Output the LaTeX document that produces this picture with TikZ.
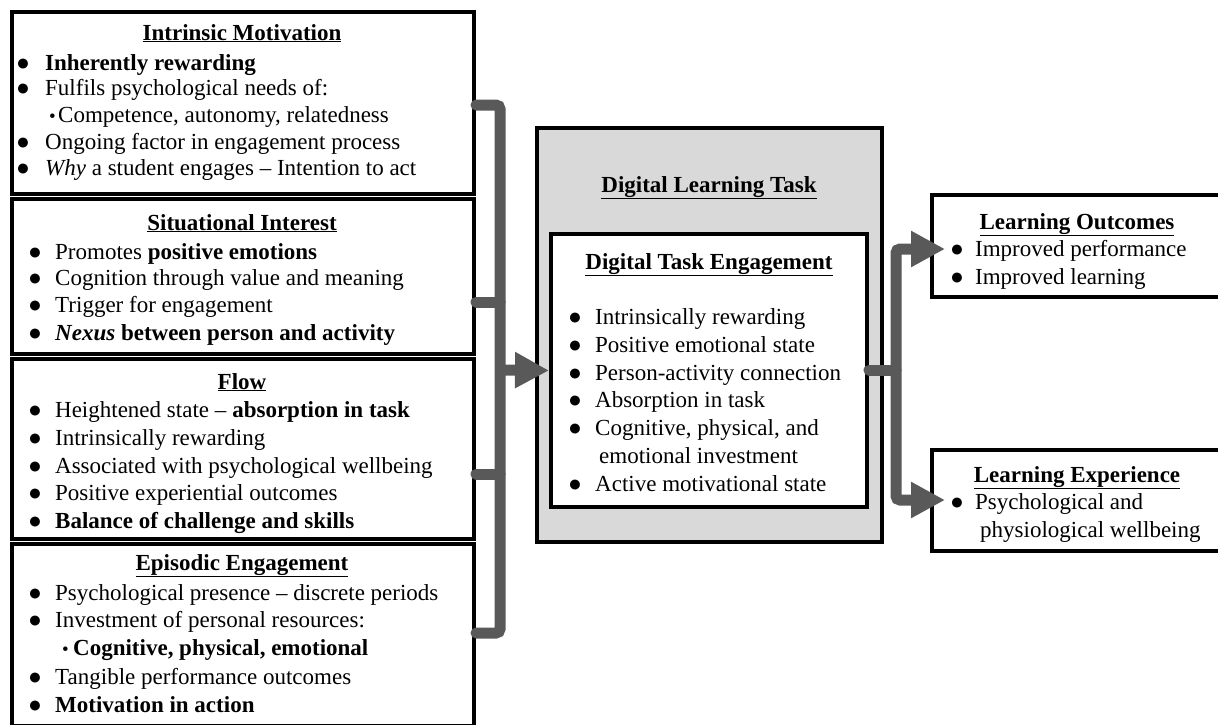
\documentclass[tikz,border=0pt]{standalone}
\usepackage{fontspec}
\setmainfont{Liberation Serif}
\usetikzlibrary{arrows.meta}
\definecolor{gl}{RGB}{89,89,89}
\definecolor{gf}{RGB}{217,217,217}
\newcommand\bul{{\fontsize{23}{23}\selectfont ●}}
\newcommand\sbul{{\fontsize{19}{19}\selectfont\textbullet}}
\newcommand\bi[1]{\makebox[27pt][l]{\bul}#1}
\newcommand\bj[1]{\makebox[25pt][l]{\bul}#1}
\begin{document}
\begin{tikzpicture}[x=1pt,y=-1pt,
  box/.style={draw=black, line width=4pt, fill=white, inner sep=0pt},
  txt/.style={anchor=base west, inner sep=0pt, font=\fontsize{23}{27}\selectfont},
  ttl/.style={anchor=base, inner sep=0pt, font=\fontsize{23}{27}\selectfont\bfseries},
  gline/.style={draw=gl, line width=11pt, line cap=round, rounded corners=4pt},
  garrow/.style={draw=gl, line width=11pt, rounded corners=4pt, -{Triangle[length=34pt,width=34pt]}}]
\clip (0,0) rectangle (1218,724);
% left boxes
\node[box, minimum width=462pt, minimum height=182pt] (im) at (243,103) {};
\node[box, minimum width=462pt, minimum height=155pt] (si) at (243,276.5) {};
\node[box, minimum width=462pt, minimum height=180pt] (fl) at (243,449) {};
\node[box, minimum width=462pt, minimum height=182pt] (ee) at (243,635) {};
% centre
\node[box, fill=gf, minimum width=345pt, minimum height=414pt] (dlt) at (709.5,335) {};
\node[box, minimum width=316pt, minimum height=273pt] (dte) at (709,370.5) {};
% right
\node[box, minimum width=300pt, minimum height=102pt] (lo) at (1082,246) {};
\node[box, minimum width=300pt, minimum height=101pt] (le) at (1082,500.5) {};
% connectors
\coordinate (j1) at (500,105);
\coordinate (j2) at (500,302);
\coordinate (j3) at (500,474);
\coordinate (j4) at (500,633);
\coordinate (jm) at (500,370);
\coordinate (rj) at (896,370);
\coordinate (loin) at (945,249);
\coordinate (lein) at (945,500);
\draw[gline] (im.east |- j1) -- (j1) -- (j4) -- (ee.east |- j4);
\draw[gline] (si.east |- j2) -- (j2);
\draw[gline] (fl.east |- j3) -- (j3);
\draw[garrow] (jm) -- (dte.west);
\draw[gline] (dte.east |- rj) -- (rj);
\draw[garrow] (rj) |- (loin);
\draw[garrow] (rj) |- (lein);
% box 1 text
\node[ttl] (imt) at (242,40) {\underline{Intrinsic Motivation}};
\node[txt] (im1) at (16,70) {\makebox[29pt][l]{\bul}\textbf{Inherently rewarding}};
\node[txt] (im2) at (16,95) {\makebox[29pt][l]{\bul}Fulfils psychological needs of:};
\node[txt] (im3) at (49,122) {\makebox[9pt][l]{\sbul}Competence, autonomy, relatedness};
\node[txt] (im4) at (16,149) {\makebox[29pt][l]{\bul}Ongoing factor in engagement process};
\node[txt] (im5) at (16,175) {\makebox[29pt][l]{\bul}\textit{Why} a student engages -- Intention to act};
% box 2 text
\node[ttl] (sit) at (242,230) {\underline{Situational Interest}};
\node[txt] (si1) at (28,259) {\bi{Promotes \textbf{positive emotions}}};
\node[txt] (si2) at (28,285) {\bi{Cognition through value and meaning}};
\node[txt] (si3) at (28,312) {\bi{Trigger for engagement}};
\node[txt] (si4) at (28,340) {\bi{\textbf{\textit{Nexus} between person and activity}}};
% box 3 text
\node[ttl] (flt) at (242,389) {\underline{Flow}};
\node[txt] (fl1) at (28,417) {\bi{Heightened state -- \textbf{absorption in task}}};
\node[txt] (fl2) at (28,445) {\bi{Intrinsically rewarding}};
\node[txt] (fl3) at (28,473) {\bi{Associated with psychological wellbeing}};
\node[txt] (fl4) at (28,500) {\bi{Positive experiential outcomes}};
\node[txt] (fl5) at (28,528) {\bi{\textbf{Balance of challenge and skills}}};
% box 4 text
\node[ttl] (eet) at (242,570) {\underline{Episodic Engagement}};
\node[txt] (ee1) at (28,600) {\bi{Psychological presence -- discrete periods}};
\node[txt] (ee2) at (28,627) {\bi{Investment of personal resources:}};
\node[txt] (ee3) at (62,655) {\makebox[11pt][l]{\sbul}\textbf{Cognitive, physical, emotional}};
\node[txt] (ee4) at (28,684) {\bi{Tangible performance outcomes}};
\node[txt] (ee5) at (28,712) {\bi{\textbf{Motivation in action}}};
% centre text
\node[ttl] (dltt) at (709,192) {\underline{Digital Learning Task}};
\node[ttl] (dtet) at (709,269) {\underline{Digital Task Engagement}};
\node[txt] (d1) at (568,324) {\bi{Intrinsically rewarding}};
\node[txt] (d2) at (568,352) {\bi{Positive emotional state}};
\node[txt] (d3) at (568,380) {\bi{Person-activity connection}};
\node[txt] (d4) at (568,407) {\bi{Absorption in task}};
\node[txt] (d5) at (568,435) {\bi{Cognitive, physical, and}};
\node[txt] (d5b) at (599,463) {emotional investment};
\node[txt] (d6) at (568,491) {\bi{Active motivational state}};
% right text
\node[ttl] (lot) at (1077,229) {\underline{Learning Outcomes}};
\node[txt] (lo1) at (950,256) {\bj{Improved performance}};
\node[txt] (lo2) at (950,284) {\bj{Improved learning}};
\node[ttl] (let) at (1077,482) {\underline{Learning Experience}};
\node[txt] (le1) at (950,509) {\bj{Psychological and}};
\node[txt] (le1b) at (980,537) {physiological wellbeing};
\end{tikzpicture}
\end{document}
